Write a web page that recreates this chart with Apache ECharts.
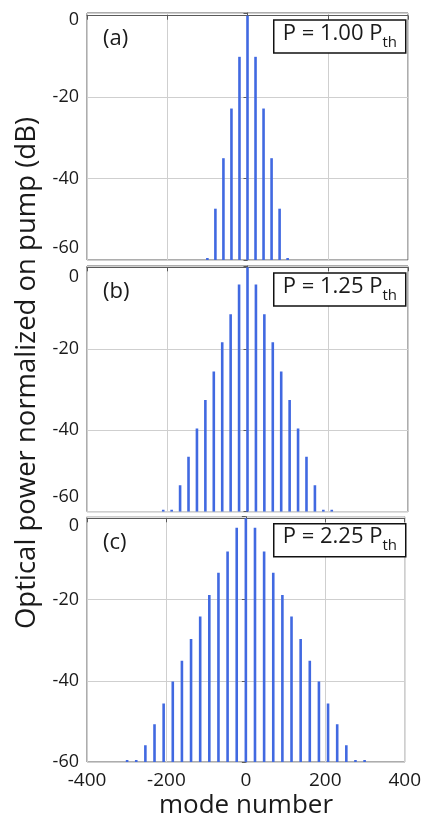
<!DOCTYPE html>
<html>
<head>
<meta charset="UTF-8">
<title>mode spectra</title>
<style type="text/css">
  html, body { margin: 0; padding: 0; background: #fff; }
  #main { width: 424px; height: 825px; }
</style>
<script src="https://cdn.jsdelivr.net/npm/echarts@6/dist/echarts.min.js"></script>
</head>
<body>
<div id="main"></div>
<script type="text/javascript">
// panel (a) P = 1.00 Pth
var modesA = [-100, -80, -60, -40, -20, 0, 20, 40, 60, 80, 100];
var powerA = [-59.6, -47.4, -35.0, -22.8, -10.1, 0, -10.1, -22.8, -35.0, -47.4, -59.6];
// panel (b) P = 1.25 Pth
var modesB = [-210, -189, -168, -147, -126, -105, -84, -63, -42, -21, 0, 21, 42, 63, 84, 105, 126, 147, 168, 189, 210];
var powerB = [-59.7, -59.7, -53.5, -46.5, -39.6, -32.6, -25.6, -18.4, -11.5, -4.2, 0, -4.2, -11.5, -18.4, -25.6, -32.6, -39.6, -46.5, -53.5, -59.7, -59.7];
// panel (c) P = 2.25 Pth
var modesC = [-299, -276, -253, -230, -207, -184, -161, -138, -115, -92, -69, -46, -23, 0, 23, 46, 69, 92, 115, 138, 161, 184, 207, 230, 253, 276, 299];
var powerC = [-59.8, -59.8, -55.9, -50.7, -45.6, -40.2, -35.1, -29.7, -24.2, -18.9, -13.4, -8.2, -2.3, 0, -2.3, -8.2, -13.4, -18.9, -24.2, -29.7, -35.1, -40.2, -45.6, -50.7, -55.9, -59.8, -59.8];

var xTicks = [-400, -200, 0, 200, 400];
var yTicks = [-60, -40, -20, 0];
var panelLabels = ['(a)', '(b)', '(c)'];
var pumpLabels = ['1.00', '1.25', '2.25'];

var FONT = 'Open Sans';
var BLUE = '#4169e1';
// hiPad / loPad nudge the "0" and "-60" labels like the original
var grids = [
  { top: 13, height: 247, ymax: 0.66, hiPad: 8, loPad: 24 },
  { top: 266, height: 245.7, ymax: 0.32, hiPad: 20, loPad: 30 },
  { top: 516.7, height: 245.3, ymax: 0.39, hiPad: 16, loPad: 0 }
];

function pairs(xs, ys) {
  var out = [];
  for (var i = 0; i < xs.length; i++) out.push([xs[i], ys[i]]);
  return out;
}
var seriesData = [pairs(modesA, powerA), pairs(modesB, powerB), pairs(modesC, powerC)];

function renderStick(params, api) {
  var top = api.coord([api.value(0), api.value(1)]);
  var base = api.coord([api.value(0), yTicks[0]]);
  var h = Math.max(base[1] - top[1], 2);
  return {
    type: 'rect',
    shape: { x: top[0] - 1.3, y: base[1] - h, width: 2.6, height: h },
    style: { fill: BLUE }
  };
}

var option = { animation: false, grid: [], xAxis: [], yAxis: [], series: [], title: [], graphic: [] };

grids.forEach(function (g, i) {
  option.grid.push({
    left: 87, width: 321, top: g.top, height: g.height,
    show: true, borderColor: '#5a5a5a', borderWidth: 1
  });
  option.xAxis.push({
    type: 'value', gridIndex: i, min: xTicks[0], max: xTicks[xTicks.length - 1], interval: 200,
    axisLine: { lineStyle: { color: '#5a5a5a' } },
    axisTick: { show: true, length: 4, lineStyle: { color: '#5a5a5a' } },
    splitLine: { show: true, lineStyle: { color: '#cfcfcf' } },
    axisLabel: { show: i === 2, fontFamily: FONT, fontSize: 19, color: '#1a1a1a', margin: 9 }
  });
  option.yAxis.push({
    type: 'value', gridIndex: i, min: yTicks[0], max: g.ymax, interval: 20,
    axisLine: { show: true, lineStyle: { color: '#5a5a5a' } },
    axisTick: { show: true, length: 4, lineStyle: { color: '#5a5a5a' } },
    splitLine: { show: true, lineStyle: { color: '#cfcfcf' } },
    axisLabel: {
      fontFamily: FONT, fontSize: 18, color: '#1a1a1a', margin: 8,
      formatter: function (v) {
        if (yTicks.indexOf(v) < 0) return '';
        if (v === 0) return '{hi|0}';
        if (v === -60) return '{lo|-60}';
        return String(v);
      },
      rich: {
        hi: { fontFamily: FONT, fontSize: 18, color: '#1a1a1a', padding: [g.hiPad, 0, 0, 0] },
        lo: { fontFamily: FONT, fontSize: 18, color: '#1a1a1a', padding: [0, 0, g.loPad, 0] }
      }
    }
  });
  option.series.push({
    type: 'custom', xAxisIndex: i, yAxisIndex: i, clip: true,
    renderItem: renderStick, data: seriesData[i]
  });
  option.title.push({
    text: '{m|P = ' + pumpLabels[i] + ' P}{s|th}',
    right: 18, top: g.top + 4,
    borderColor: '#111', borderWidth: 1.5, backgroundColor: '#fff',
    padding: [3, 9, 3, 9],
    textStyle: {
      fontWeight: 'normal',
      rich: {
        m: { fontFamily: FONT, fontSize: 22, fontWeight: 'normal', color: '#1a1a1a', verticalAlign: 'bottom', height: 27 },
        s: { fontFamily: FONT, fontSize: 15, fontWeight: 'normal', color: '#1a1a1a', verticalAlign: 'bottom', padding: [0, 0, -3, 0] }
      }
    }
  });
  option.graphic.push({
    type: 'text', left: 103, top: g.top + 15,
    style: { text: panelLabels[i], fontFamily: FONT, fontSize: 22, fill: '#1a1a1a' }
  });
});

option.graphic.push({
  type: 'text', x: 27, y: 373, rotation: Math.PI / 2,
  style: {
    text: 'Optical power normalized on pump (dB)', fontFamily: FONT, fontSize: 27.5,
    fill: '#1a1a1a', align: 'center', verticalAlign: 'middle'
  }
});
option.graphic.push({
  type: 'text', x: 246, y: 806,
  style: {
    text: 'mode number', fontFamily: FONT, fontSize: 26,
    fill: '#1a1a1a', align: 'center', verticalAlign: 'middle'
  }
});

var myChart = echarts.init(document.getElementById('main'));
myChart.setOption(option);
</script>
</body>
</html>
